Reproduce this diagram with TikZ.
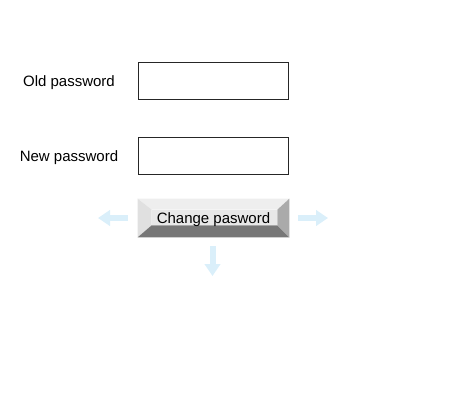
\documentclass[tikz,border=0pt]{standalone}
\usepackage{fontspec}
\setmainfont{Liberation Sans}
\usetikzlibrary{arrows.meta}

\definecolor{hintblue}{HTML}{DAEFFA}
\definecolor{bevtop}{HTML}{EEEEEE}
\definecolor{bevleft}{HTML}{E0E0E0}
\definecolor{bevbottom}{HTML}{777777}
\definecolor{bevright}{HTML}{AAAAAA}
\definecolor{bevface}{HTML}{E8E8E8}

\begin{document}
\begin{tikzpicture}[
    x=0.75pt, y=-0.75pt,
    label/.style={font=\fontsize{11.25pt}{13pt}\selectfont, inner sep=0pt},
    field/.style={draw=black!85, line width=1.1pt, fill=white, minimum width=150pt*0.75, minimum height=37pt*0.75, inner sep=0pt},
    button/.style={minimum width=151pt*0.75, minimum height=38pt*0.75, inner sep=0pt, font=\fontsize{11.25pt}{13pt}\selectfont},
    hint/.style={-{Triangle[width=11.5pt, length=9pt]}, line width=4.5pt, hintblue}
  ]
  \useasboundingbox (0,0) rectangle (466,414);

  % Labels and input fields
  \node[label] (oldlbl) at (69,82.5) {Old password};
  \node[field] (oldfld) at (213.5,81) {};
  \node[label] (newlbl) at (69,157.5) {New password};
  \node[field] (newfld) at (213.5,156) {};

  % Bevelled button
  \node[button] (btn) at (213.5,218) {};
  \coordinate (inw) at ([shift={(14,11)}]btn.north west);
  \coordinate (ine) at ([shift={(-12,11)}]btn.north east);
  \coordinate (isw) at ([shift={(14,-12)}]btn.south west);
  \coordinate (ise) at ([shift={(-12,-12)}]btn.south east);
  \fill[bevtop] (btn.north west) -- (btn.north east) -- (ine) -- (inw) -- cycle;
  \fill[bevleft] (btn.north west) -- (inw) -- (isw) -- (btn.south west) -- cycle;
  \fill[bevbottom] (btn.south west) -- (btn.south east) -- (ise) -- (isw) -- cycle;
  \fill[bevright] (btn.north east) -- (btn.south east) -- (ise) -- (ine) -- cycle;
  \fill[bevface] (inw) rectangle (ise);
  \node[label] (btntxt) at ([yshift=-1.5pt]btn.center) {Change pasword};

  % Hint arrows around the button
  \coordinate (lfrom) at (128,218);
  \coordinate (lto) at (98,218);
  \coordinate (rfrom) at (298,218);
  \coordinate (rto) at (328,218);
  \coordinate (dfrom) at (212.5,246);
  \coordinate (dto) at (212.5,276);
  \draw[hint] (lfrom) -- (lto);
  \draw[hint] (rfrom) -- (rto);
  \draw[hint] (dfrom) -- (dto);
\end{tikzpicture}
\end{document}
